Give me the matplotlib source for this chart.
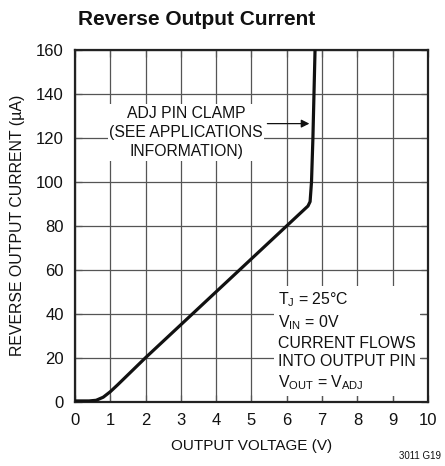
import matplotlib
matplotlib.use("Agg")
import matplotlib.pyplot as plt

# Curve
vout = [0.0, 0.4, 0.6, 0.8, 1.0, 1.2, 2.0, 3.0, 4.0, 5.0, 6.0, 6.4, 6.6, 6.66, 6.7, 6.74, 6.77, 6.8]
irev = [0.3, 0.3, 0.6, 2.0, 4.5, 7.5, 20.0, 35.0, 50.0, 65.0, 80.0, 86.0, 89.0, 91.0, 100.0, 120.0, 140.0, 160.0]

x_ticks = list(range(0, 11))
y_ticks = list(range(0, 161, 20))

FONT = ["Liberation Sans", "DejaVu Sans"]
plt.rcParams["font.family"] = FONT
plt.rcParams["mathtext.fontset"] = "custom"
plt.rcParams["mathtext.rm"] = "Liberation Sans"
plt.rcParams["mathtext.it"] = "Liberation Sans"

fig = plt.figure(figsize=(4.45, 4.66), dpi=100)
ax = fig.add_axes([0.1685, 0.1382, 0.7933, 0.7545])

ax.plot(vout, irev, color="#111111", linewidth=2.3, solid_capstyle="butt", zorder=4)

ax.set_xlim(0, 10)
ax.set_ylim(0, 160)
ax.set_xticks(x_ticks)
ax.set_yticks(y_ticks)
ax.set_axisbelow(True)
ax.grid(True, color="#555555", linewidth=0.9)
ax.tick_params(direction="in", length=5, width=0.9, color="#555555",
               top=True, right=True, labelsize=12, labelcolor="#111111", pad=8)
for s in ax.spines.values():
    s.set_linewidth(1.6)
    s.set_color("#222222")

ax.set_xlabel("OUTPUT VOLTAGE (V)", fontsize=11, color="#111111", labelpad=8)
ax.set_ylabel("REVERSE OUTPUT CURRENT (\u00b5A)", fontsize=11.4, color="#111111", labelpad=8)
fig.text(0.4416, 0.958, "Reverse Output Current", fontsize=15, fontweight="bold",
         ha="center", va="center", color="#111111")
fig.text(0.99, 0.022, "3011 G19", fontsize=7, ha="right", va="center", color="#111111")

ax.text(3.15, 122.5, "ADJ PIN CLAMP\n(SEE APPLICATIONS\nINFORMATION)", fontsize=11.3,
        ha="center", va="center", linespacing=1.35, color="#111111", zorder=3,
        bbox=dict(facecolor="white", edgecolor="none", pad=1))
ax.annotate("", xy=(6.64, 126.5), xytext=(5.45, 126.5), zorder=3,
            arrowprops=dict(arrowstyle="-|>", color="#111111", lw=0.9,
                            mutation_scale=12, shrinkA=0, shrinkB=0))

ax.text(5.75, 27.5, "T$_\\mathrm{J}$ = 25\u00b0C\nV$_\\mathrm{IN}$ = 0V\nCURRENT FLOWS\n"
        "INTO OUTPUT PIN\nV$_\\mathrm{OUT}$ = V$_\\mathrm{ADJ}$", fontsize=11.4,
        ha="left", va="center", linespacing=1.3, color="#111111", zorder=3,
        bbox=dict(facecolor="white", edgecolor="none", pad=3))

fig.savefig("out.png", dpi=100)
